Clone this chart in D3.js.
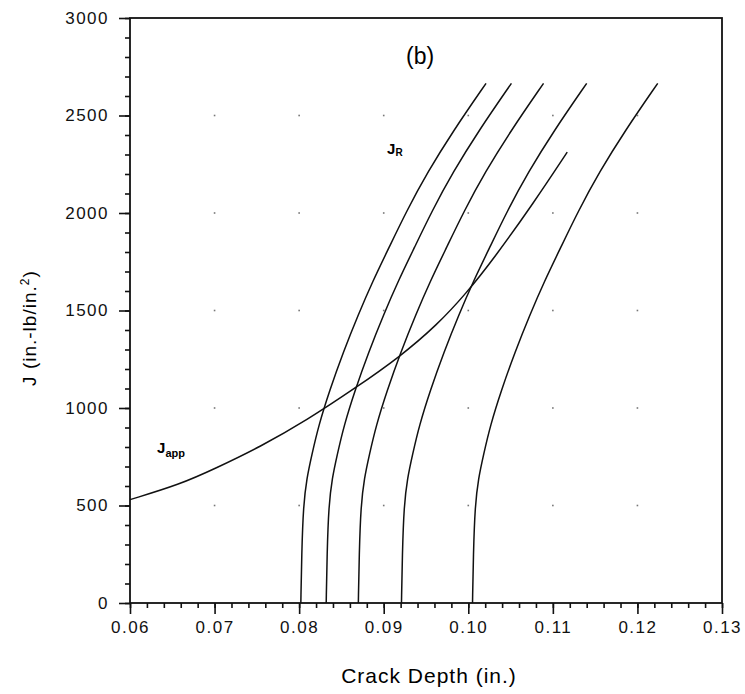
<!DOCTYPE html>
<html>
<head>
<meta charset="utf-8">
<script src="https://cdn.jsdelivr.net/npm/d3@7"></script>
<style>
  body { margin: 0; background: #fff; }
  svg { font-family: "Liberation Sans", Arial, sans-serif; }
  .tick text { font-size: 17px; letter-spacing: 1.5px; fill: #111; }
  .domain { display: none; }
  .tick line { stroke: #111; stroke-width: 1.6; }
</style>
</head>
<body>
<script>
// x ticks (crack depth, in.) and y ticks (J, in.-lb/in.^2)
const xTicks = [0.06, 0.07, 0.08, 0.09, 0.10, 0.11, 0.12, 0.13]
const xTickLabels = ["0.06", "0.07", "0.08", "0.09", "0.10", "0.11", "0.12", "0.13"]
const yTicks = [0, 500, 1000, 1500, 2000, 2500, 3000]

// J_R resistance levels, shared by the five curves
const jrLevels = [0, 250, 500, 640, 760, 910, 1090, 1285, 1480, 1650, 1820, 2010, 2210, 2420, 2665]
// crack depth of each J_R curve at those levels
const jr1 = [0.0802, 0.0803, 0.0805, 0.0809, 0.0815, 0.0823, 0.0836, 0.0852, 0.0870, 0.0887, 0.0906, 0.0927, 0.0952, 0.0982, 0.1021]
const jr2 = [0.0832, 0.0833, 0.0835, 0.0839, 0.0845, 0.0853, 0.0866, 0.0882, 0.0900, 0.0917, 0.0936, 0.0957, 0.0982, 0.1012, 0.1051]
const jr3 = [0.0870, 0.0871, 0.0873, 0.0877, 0.0883, 0.0891, 0.0904, 0.0920, 0.0938, 0.0955, 0.0974, 0.0995, 0.1020, 0.1050, 0.1089]
const jr4 = [0.0921, 0.0922, 0.0924, 0.0928, 0.0934, 0.0942, 0.0955, 0.0971, 0.0989, 0.1006, 0.1025, 0.1046, 0.1071, 0.1101, 0.1140]
const jr5 = [0.1005, 0.1006, 0.1008, 0.1012, 0.1018, 0.1026, 0.1039, 0.1055, 0.1073, 0.1090, 0.1109, 0.1130, 0.1155, 0.1185, 0.1224]

// applied J
const jappDepth = [0.0600, 0.0659, 0.0701, 0.0754, 0.0809, 0.0868, 0.0918, 0.0963, 0.0998, 0.1030, 0.1077, 0.1117]
const jappValue = [530, 608, 690, 801, 937, 1107, 1259, 1425, 1590, 1765, 2050, 2312]

var margin = { top: 18, right: 23, bottom: 91, left: 130 },
    width = 745 - margin.left - margin.right,
    height = 694 - margin.top - margin.bottom;

var svg = d3.select("body").append("svg")
    .attr("width", 745)
    .attr("height", 694)
    .append("g")
    .attr("transform", "translate(" + margin.left + "," + margin.top + ")");

var x = d3.scaleLinear().domain([0.06, 0.13]).range([0, width]);
var y = d3.scaleLinear().domain([0, 3000]).range([height, 0]);

// minor ticks
svg.append("g")
    .attr("transform", "translate(0," + height + ")")
    .call(d3.axisBottom(x).tickValues(d3.range(0.06, 0.1301, 0.002)).tickSize(5).tickFormat(""));
svg.append("g")
    .call(d3.axisLeft(y).tickValues(d3.range(0, 3001, 100)).tickSize(5).tickFormat(""));

// major ticks
svg.append("g")
    .attr("transform", "translate(0," + height + ")")
    .call(d3.axisBottom(x).tickValues(xTicks).tickSize(11).tickPadding(7)
        .tickFormat((d, i) => xTickLabels[i]));
svg.append("g")
    .call(d3.axisLeft(y).tickValues(yTicks).tickSize(11).tickPadding(10).tickFormat(d3.format("d")));

// faint dots at grid intersections
var dots = [];
xTicks.slice(1, -1).forEach(xv => yTicks.slice(1, -1).forEach(yv => dots.push([xv, yv])));
svg.selectAll("gridDots")
    .data(dots)
    .enter()
    .append("rect")
    .attr("x", d => x(d[0]) - 0.8)
    .attr("y", d => y(d[1]) - 0.8)
    .attr("width", 1.6)
    .attr("height", 1.6)
    .attr("fill", "#777");

// frame
svg.append("rect")
    .attr("width", width)
    .attr("height", height)
    .attr("fill", "none")
    .attr("stroke", "#111")
    .attr("stroke-width", 1.8);

var line = d3.line()
    .x(d => x(d[0]))
    .y(d => y(d[1]))
    .curve(d3.curveBasis);

[jr1, jr2, jr3, jr4, jr5].forEach(c => {
    svg.append("path")
        .datum(c.map((a, i) => [a, jrLevels[i]]))
        .attr("fill", "none")
        .attr("stroke", "#111")
        .attr("stroke-width", 1.5)
        .attr("d", line);
});

svg.append("path")
    .datum(jappDepth.map((a, i) => [a, jappValue[i]]))
    .attr("fill", "none")
    .attr("stroke", "#111")
    .attr("stroke-width", 1.5)
    .attr("d", line);

// labels
svg.append("text")
    .attr("x", x(0.0943))
    .attr("y", y(2765))
    .attr("text-anchor", "middle")
    .style("font-size", "23px")
    .text("(b)");

var jr = svg.append("text")
    .attr("x", x(0.0904))
    .attr("y", y(2305))
    .style("font-size", "15px")
    .style("font-weight", "bold");
jr.append("tspan").text("J");
jr.append("tspan").attr("dy", 2).style("font-size", "10px").text("R");

var ja = svg.append("text")
    .attr("x", x(0.0632))
    .attr("y", y(768))
    .style("font-size", "15px")
    .style("font-weight", "bold");
ja.append("tspan").text("J");
ja.append("tspan").attr("dy", 4).style("font-size", "11px").text("app");

svg.append("text")
    .attr("x", width / 2 + 3)
    .attr("y", height + 80)
    .attr("text-anchor", "middle")
    .style("font-size", "21px")
    .style("letter-spacing", "1px")
    .text("Crack Depth (in.)");

var yl = svg.append("text")
    .attr("transform", "translate(" + (-margin.left + 36) + "," + y(1410) + ") rotate(-90)")
    .attr("text-anchor", "middle")
    .style("font-size", "19px")
    .style("letter-spacing", "1px");
yl.append("tspan").text("J (in.-lb/in.");
yl.append("tspan").attr("dy", -7).style("font-size", "12px").text("2");
yl.append("tspan").attr("dy", 7).text(")");
</script>
</body>
</html>
